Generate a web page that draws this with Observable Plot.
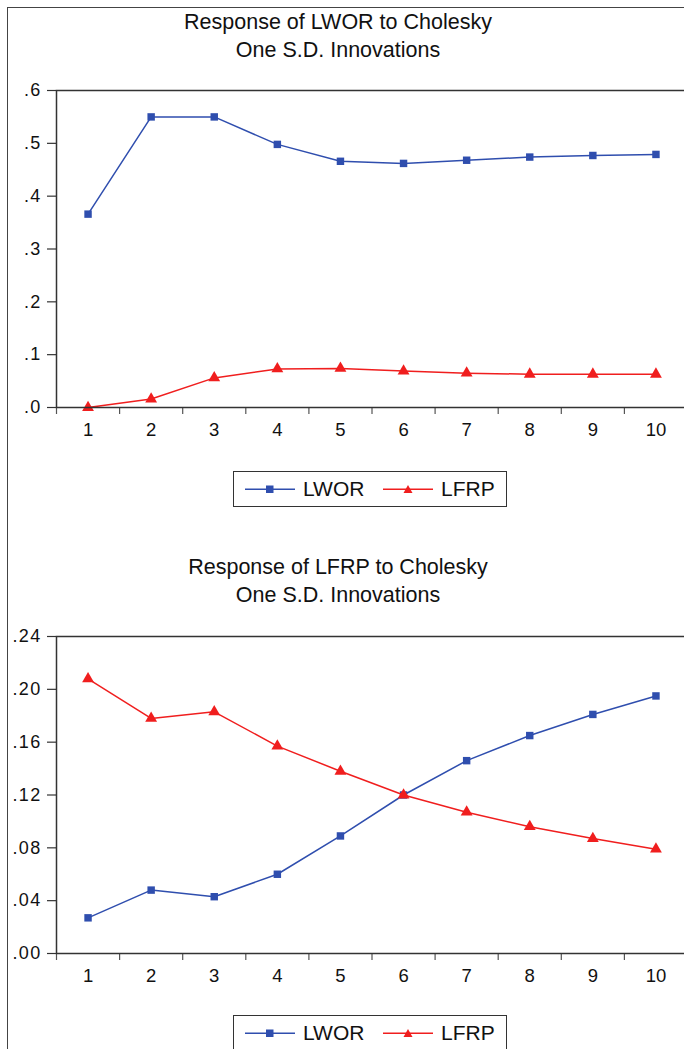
<!DOCTYPE html>
<html>
<head>
<meta charset="utf-8">
<script src="https://cdn.jsdelivr.net/npm/d3@7"></script>
<script src="https://cdn.jsdelivr.net/npm/@observablehq/plot@0.6"></script>
<style>
  html, body { margin: 0; padding: 0; background: #fff; overflow: hidden; }
  #page { position: relative; width: 684px; height: 1049px; overflow: hidden; font-family: "Liberation Sans", Arial, sans-serif; color: #111; }
  .border { position: absolute; left: 7px; top: 7px; width: 800px; height: 1200px; border-left: 1.5px solid #444; border-top: 1.5px solid #444; }
  .title { position: absolute; left: 0; width: 676px; text-align: center; font-size: 21.5px; line-height: 28px; }
  .legend { position: absolute; left: 233px; width: 274px; height: 36px; border: 1.5px solid #333; box-sizing: border-box; background: #fff; }
  .legend .item { position: absolute; top: 0; height: 33px; display: flex; align-items: center; font-size: 21px; }
  .legend svg { margin-right: 8px; }
  .chart { position: absolute; left: 0; }
</style>
</head>
<body>
<div id="page">
  <div class="border"></div>
</div>
<script>
// ---- data ----
const periods = [1, 2, 3, 4, 5, 6, 7, 8, 9, 10];
const seriesNames = ["LWOR", "LFRP"];
const seriesColors = ["#2F4EAE", "#F01E1E"];
const seriesSymbols = ["square", "triangle"];

// Response of LWOR
const lworToLwor = [0.366, 0.550, 0.550, 0.498, 0.466, 0.462, 0.468, 0.474, 0.477, 0.479];
const lworToLfrp = [0.000, 0.016, 0.056, 0.073, 0.074, 0.069, 0.065, 0.063, 0.063, 0.063];
const yTicks1 = [0, 0.1, 0.2, 0.3, 0.4, 0.5, 0.6];

// Response of LFRP
const lfrpToLwor = [0.027, 0.048, 0.043, 0.060, 0.089, 0.120, 0.146, 0.165, 0.181, 0.195];
const lfrpToLfrp = [0.208, 0.178, 0.183, 0.157, 0.138, 0.120, 0.107, 0.096, 0.087, 0.079];
const yTicks2 = [0, 0.04, 0.08, 0.12, 0.16, 0.20, 0.24];

const titles1 = ["Response of LWOR to Cholesky", "One S.D. Innovations"];
const titles2 = ["Response of LFRP to Cholesky", "One S.D. Innovations"];

const page = document.getElementById("page");

function toRows(values, name) {
  return periods.map((p, i) => ({period: p, value: values[i], series: name}));
}

function addTitle(lines, top) {
  const d = document.createElement("div");
  d.className = "title";
  d.style.top = top + "px";
  d.innerHTML = lines.join("<br>");
  page.appendChild(d);
}

function addLegend(top) {
  const lg = document.createElement("div");
  lg.className = "legend";
  lg.style.top = top + "px";
  const lefts = [11, 149];
  seriesNames.forEach((name, i) => {
    const it = document.createElement("div");
    it.className = "item";
    it.style.left = lefts[i] + "px";
    const c = seriesColors[i];
    const marker = i === 0
      ? `<rect x="21" y="2.5" width="7.5" height="7.5" fill="${c}"/>`
      : `<path d="M25,2 L29.5,10 L20.5,10 Z" fill="${c}"/>`;
    it.innerHTML = `<svg width="50" height="12"><line x1="0" x2="50" y1="6.3" y2="6.3" stroke="${c}" stroke-width="1.5"/>${marker}</svg><span>${name}</span>`;
    lg.appendChild(it);
  });
  page.appendChild(lg);
}

function addChart(top, yDomain, yTicks, decimals, a, b, yFont) {
  const rows = [...toRows(a, "LWOR"), ...toRows(b, "LFRP")];
  const fmt = v => d3.format("." + decimals + "f")(v).replace(/^0/, "");
  const marks = [];
  seriesNames.forEach((name, i) => {
    const data = rows.filter(r => r.series === name);
    marks.push(Plot.line(data, {x: "period", y: "value", stroke: seriesColors[i], strokeWidth: 1.5}));
    marks.push(Plot.dot(data, {x: "period", y: "value", symbol: seriesSymbols[i], r: i === 0 ? 4.2 : 4.4, fill: seriesColors[i], stroke: "none"}));
  });
  const svg = Plot.plot({
    width: 700,
    height: 953 - 636 + 10 + 40,
    marginTop: 10,
    marginBottom: 40,
    marginLeft: 56,
    marginRight: 13,
    style: {background: "transparent", maxWidth: "none", fontFamily: "Liberation Sans, Arial, sans-serif", color: "#111", overflow: "visible"},
    x: {type: "linear", domain: [0.5, 10.5], label: null},
    y: {domain: yDomain, label: null},
    marks: [
      Plot.axisY({ticks: yTicks, tickSize: 9, tickPadding: 6, tickFormat: fmt, fontSize: yFont, stroke: "#333", strokeWidth: 1.2, label: null}),
      Plot.axisX({ticks: d3.range(0.5, 11, 1), tickSize: 7, tickFormat: () => "", stroke: "#555", strokeWidth: 1.2, label: null}),
      Plot.axisX({ticks: periods, tickSize: 0, tickPadding: 15, tickFormat: d => String(d), fontSize: 18.5, label: null}),
      ...marks,
      Plot.frame({stroke: "#333", strokeWidth: 1.5})
    ]
  });
  svg.querySelectorAll('[aria-label="y-axis tick label"]').forEach(g => g.style.letterSpacing = "1.3px");
  svg.classList.add("chart");
  svg.style.position = "absolute";
  svg.style.top = top + "px";
  svg.style.left = "0px";
  page.appendChild(svg);
}

addTitle(titles1, 8);
addChart(80, [0, 0.6], yTicks1, 1, lworToLwor, lworToLfrp, 18);
addLegend(471);

addTitle(titles2, 553);
addChart(626, [0, 0.24], yTicks2, 2, lfrpToLwor, lfrpToLfrp, 18);
addLegend(1015);
</script>
</body>
</html>
